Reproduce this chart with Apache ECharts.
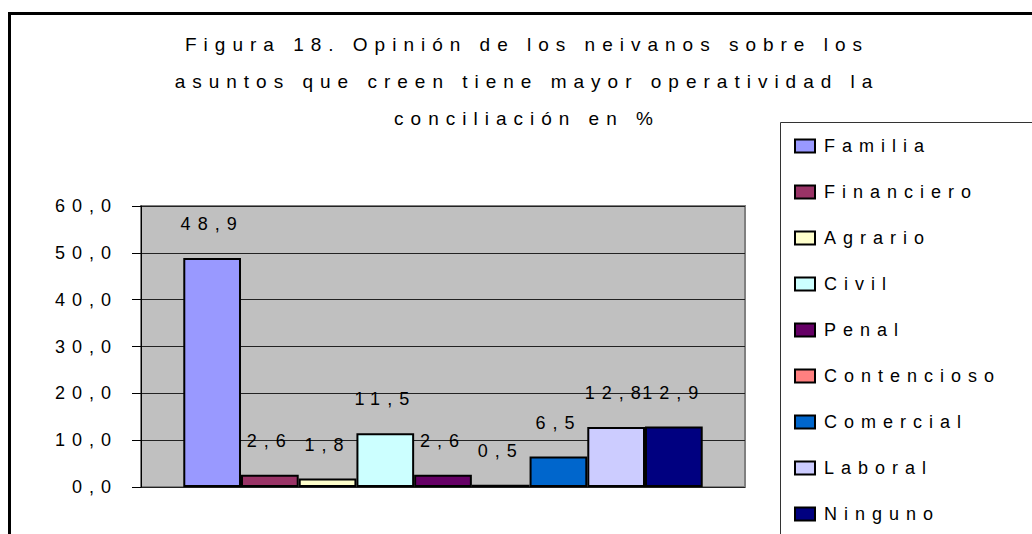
<!DOCTYPE html>
<html>
<head>
<meta charset="utf-8">
<title>Figura 18</title>
<script src="https://cdn.jsdelivr.net/npm/echarts@6/dist/echarts.min.js"></script>
<style>
  html, body { margin: 0; padding: 0; background: #fff; }
  #chart { width: 1032px; height: 534px; }
  /* letras espaciadas como en el original */
  #chart text { letter-spacing: 7px; }
  #chart text[style*="19px"], #chart text[font-size="19"] { letter-spacing: 7px; }
</style>
</head>
<body>
<div id="chart"></div>
<script>
// datos
const titleText = 'Figura 18. Opinión de los neivanos sobre los\nasuntos que creen tiene mayor operatividad la\nconciliación en %'
const categories = ['']
const seriesNames = ['Familia', 'Financiero', 'Agrario', 'Civil', 'Penal', 'Contencioso', 'Comercial', 'Laboral', 'Ninguno']
const seriesValues = [48.9, 2.6, 1.8, 11.5, 2.6, 0.5, 6.5, 12.8, 12.9]
const seriesColors = ['#9999FF', '#993366', '#FFFFCC', '#CCFFFF', '#660066', '#FF8080', '#0066CC', '#CCCCFF', '#000080']
const yTicks = { min: 0, max: 60, interval: 10 }

const font = 'Liberation Sans, Arial, sans-serif'
const fmt = v => Number(v).toFixed(1).replace('.', ',')

const chart = echarts.init(document.getElementById('chart'), null, { renderer: 'svg' })

const series = seriesNames.map((name, i) => ({
  name: name,
  type: 'bar',
  barGap: '0%',
  barCategoryGap: '14%',
  itemStyle: {
    color: seriesColors[i],
    borderColor: '#000',
    borderWidth: 2
  },
  label: {
    show: true,
    position: 'top',
    distance: 25,
    color: '#000',
    fontSize: 18,
    fontFamily: font,
    formatter: p => fmt(p.value)
  },
  data: [seriesValues[i]]
}))

const option = {
  animation: false,
  backgroundColor: '#fff',
  graphic: [
    // marco exterior del gráfico
    {
      type: 'rect',
      shape: { x: 9.5, y: 13.5, width: 1100, height: 700 },
      style: { fill: 'none', stroke: '#000', lineWidth: 3 },
      silent: true
    },
    // caja de la leyenda
    {
      type: 'rect',
      shape: { x: 780.5, y: 122.5, width: 400, height: 500 },
      style: { fill: '#fff', stroke: '#333', lineWidth: 1 },
      silent: true
    }
  ],
  title: {
    text: titleText,
    left: 527,
    top: 26,
    textAlign: 'center',
    padding: 0,
    textStyle: {
      fontSize: 19,
      fontWeight: 'normal',
      fontFamily: font,
      color: '#000',
      lineHeight: 37
    }
  },
  legend: {
    orient: 'vertical',
    left: 780,
    top: 122,
    padding: [14, 0, 0, 14],
    icon: 'rect',
    itemWidth: 20,
    itemHeight: 13,
    itemGap: 26,
    itemStyle: { borderColor: '#000', borderWidth: 2 },
    textStyle: {
      fontSize: 18,
      fontFamily: font,
      color: '#000',
      lineHeight: 20,
      padding: [0, 0, 0, 4]
    },
    data: seriesNames
  },
  grid: {
    left: 141,
    top: 206,
    width: 604,
    height: 281,
    show: true,
    backgroundColor: '#C0C0C0',
    borderColor: '#808080',
    borderWidth: 2
  },
  xAxis: {
    type: 'category',
    data: categories,
    axisLine: { show: false },
    axisTick: { show: false },
    axisLabel: { show: false }
  },
  yAxis: {
    type: 'value',
    min: yTicks.min,
    max: yTicks.max,
    interval: yTicks.interval,
    axisLine: { show: true, lineStyle: { color: '#000', width: 1 } },
    axisTick: { show: true, inside: false, length: 9, lineStyle: { color: '#000' } },
    axisLabel: {
      margin: 23,
      color: '#000',
      fontSize: 18,
      fontFamily: font,
      formatter: v => fmt(v)
    },
    splitLine: { show: true, lineStyle: { color: '#222', width: 1 } }
  },
  series: series
}

chart.setOption(option)
</script>
</body>
</html>
